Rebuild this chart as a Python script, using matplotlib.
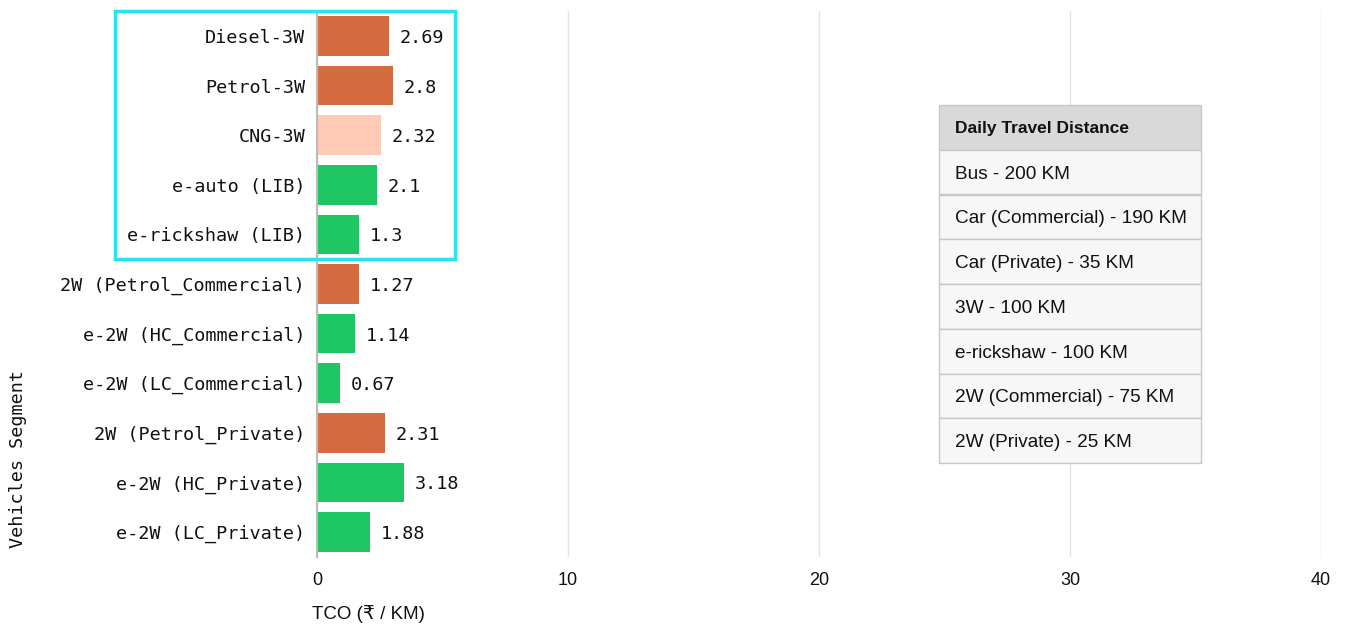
import matplotlib
matplotlib.use("Agg")
import matplotlib.pyplot as plt
from matplotlib.patches import Rectangle

# Datos
segmentos = ["Diesel-3W", "Petrol-3W", "CNG-3W", "e-auto (LIB)", "e-rickshaw (LIB)",
             "2W (Petrol_Commercial)", "e-2W (HC_Commercial)", "e-2W (LC_Commercial)",
             "2W (Petrol_Private)", "e-2W (HC_Private)", "e-2W (LC_Private)"]
# etiquetas de valor tal como aparecen
tco = [2.69, 2.8, 2.32, 2.1, 1.3, 1.27, 1.14, 0.67, 2.31, 3.18, 1.88]
# largo de barra (no coincide exacto con la etiqueta)
tco_barra = [2.88, 3.04, 2.56, 2.40, 1.69, 1.69, 1.53, 0.93, 2.72, 3.48, 2.12]
tipo = ["fosil", "fosil", "cng", "ev", "ev", "fosil", "ev", "ev", "fosil", "ev", "ev"]

tabla_titulo = "Daily Travel Distance"
tabla_filas = ["Bus - 200 KM", "Car (Commercial) - 190 KM", "Car (Private) - 35 KM",
               "3W - 100 KM", "e-rickshaw - 100 KM", "2W (Commercial) - 75 KM",
               "2W (Private) - 25 KM"]

colores = {"fosil": "#d56c40", "cng": "#ffcbb6", "ev": "#1fc664"}
mono = ["DejaVu Sans Mono"]
sans = ["Liberation Sans", "DejaVu Sans"]
negro = "#111111"

fig = plt.figure(figsize=(13.46, 6.25), dpi=100)
ax = fig.add_axes([0.2355, 0.1091, 0.7459, 0.873])

y = list(range(len(segmentos)))
barras = ax.barh(y, tco_barra, height=0.8, color=[colores[t] for t in tipo], zorder=2)
etiquetas = ax.bar_label(barras, labels=[str(v) for v in tco], padding=7.5,
                         fontsize=13.3, family=mono, color=negro)
for t in etiquetas:
    t.set_va("center_baseline")

ax.set_ylim(len(segmentos) - 0.5, -0.5)
ax.set_xlim(0, 40)
ax.set_xticks([0, 10, 20, 30, 40])
ax.set_yticks(y)
ax.set_yticklabels(segmentos, family=mono, fontsize=13.3, color=negro)
ax.tick_params(axis="y", length=0, pad=8.5)
ax.tick_params(axis="x", length=0, pad=11, labelsize=13, colors=negro)
for lbl in ax.get_xticklabels():
    lbl.set_family(sans)

ax.grid(axis="x", color="#e3e3e3", linewidth=1, zorder=0)
for s in ["top", "right", "bottom"]:
    ax.spines[s].set_visible(False)
ax.spines["left"].set_color("#bbbbbb")
ax.spines["left"].set_linewidth(1.5)
ax.spines["left"].set_zorder(3)

ax.set_xlabel("TCO (₹ / KM)", family=sans, fontsize=13.5, color=negro, loc="left")
ax.xaxis.set_label_coords(-0.005, -0.088)
ax.set_ylabel("Vehicles Segment", family=mono, fontsize=13.3, color=negro)
ax.yaxis.set_label_coords(-0.289, 0.179)

# Recuadro resaltado
ax.add_patch(Rectangle((-8.05, -0.5), 13.55, 5.0, fill=False, edgecolor="#27e4f2",
                       linewidth=2.5, clip_on=False, zorder=4))

# Tabla de distancias
tax = fig.add_axes([0.6976, 0.2592, 0.1947, 0.5728])
tax.axis("off")
celdas = [[tabla_titulo]] + [[f] for f in tabla_filas]
tabla = tax.table(cellText=celdas, cellLoc="left", bbox=[0, 0, 1, 1])
tabla.auto_set_font_size(False)
for (r, c), cell in tabla.get_celld().items():
    cell.set_edgecolor("#c8c8c8")
    cell.set_linewidth(1)
    cell.PAD = 0.06
    txt = cell.get_text()
    txt.set_family(sans)
    txt.set_color(negro)
    txt.set_va("center_baseline")
    if r == 0:
        cell.set_facecolor("#d9d9d9")
        txt.set_fontweight("bold")
        txt.set_fontsize(12.5)
    else:
        cell.set_facecolor("#f7f7f7")
        txt.set_fontsize(13.7)

fig.savefig("out.png", dpi=100)
